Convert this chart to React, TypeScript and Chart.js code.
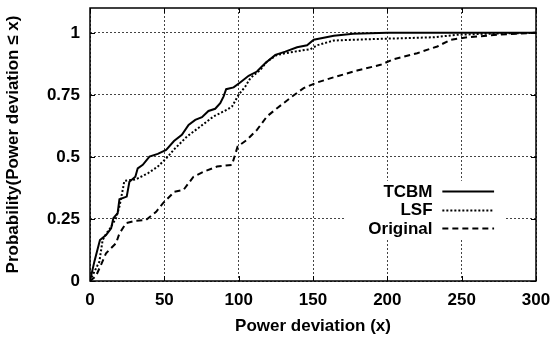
import React, { useEffect, useRef } from "react";
import { Chart, registerables } from "chart.js";

Chart.register(...registerables);

const xTicks = [0, 50, 100, 150, 200, 250, 300];
const yTicks = [0, 0.25, 0.5, 0.75, 1];

const tcbmX = [0, 3, 6.7, 10.8, 14.2, 15.7, 18.6, 19.8, 24.7, 26.5, 30.5, 32.1, 35.5, 40, 45.6, 51.2, 56.5, 61.8, 66.3, 70.8, 75.3, 79.7, 84.2, 87.6, 89.8, 91.6, 96.6, 101, 106.7, 112.3, 118, 124.7, 131.4, 139.3, 146, 150.5, 164, 177, 200, 300];
const tcbmY = [0, 0.08, 0.165, 0.185, 0.212, 0.253, 0.273, 0.329, 0.34, 0.4, 0.42, 0.454, 0.468, 0.501, 0.512, 0.528, 0.564, 0.589, 0.629, 0.649, 0.66, 0.685, 0.694, 0.716, 0.743, 0.773, 0.78, 0.8, 0.827, 0.844, 0.878, 0.911, 0.924, 0.942, 0.95, 0.972, 0.988, 0.996, 1, 1];

const lsfX = [0, 2.9, 6.3, 8.5, 10.8, 13.5, 17.5, 19.8, 22, 23.1, 31, 38.9, 45.6, 52.4, 56.5, 65.2, 74.1, 83.1, 92.1, 95.5, 99.9, 104.4, 107.8, 114.6, 119, 125.8, 133.6, 141.5, 148.2, 152.8, 164, 186, 209, 231, 247, 265, 300];
const lsfY = [0, 0.037, 0.078, 0.165, 0.19, 0.212, 0.253, 0.3, 0.367, 0.403, 0.41, 0.434, 0.461, 0.501, 0.53, 0.582, 0.622, 0.663, 0.69, 0.703, 0.75, 0.783, 0.817, 0.851, 0.884, 0.911, 0.92, 0.928, 0.934, 0.95, 0.969, 0.974, 0.978, 0.982, 0.992, 0.996, 1];

const origX = [0, 4, 7.4, 10.8, 17.5, 19.8, 24.3, 31, 37.7, 44.5, 49, 56.8, 62.9, 69.6, 76.4, 85.4, 95.5, 99.3, 105.6, 112.3, 119, 125.8, 135.9, 143.7, 152.8, 164, 179.7, 195.4, 204.4, 220.1, 233.6, 242.6, 253.8, 276, 300];
const origY = [0, 0.02, 0.065, 0.112, 0.152, 0.192, 0.233, 0.243, 0.246, 0.279, 0.313, 0.36, 0.367, 0.42, 0.44, 0.461, 0.468, 0.542, 0.569, 0.609, 0.663, 0.696, 0.743, 0.777, 0.8, 0.821, 0.848, 0.871, 0.894, 0.918, 0.945, 0.972, 0.982, 0.993, 1];

const seriesNames = ["TCBM", "LSF", "Original"];
const seriesDash = [[], [2, 2], [6, 4]];

const FONT = "'Liberation Sans', Arial, sans-serif";
const FS = 17;

const pts = (xs: number[], ys: number[]) => xs.map((x, i) => ({ x, y: ys[i] }));

const framePlugin = {
  id: "frame",
  beforeDatasetsDraw(chart: any) {
    const { ctx, chartArea: a } = chart;
    const w = a.right - a.left;
    const h = a.bottom - a.top;
    ctx.save();
    ctx.fillStyle = "#fff";
    ctx.fillRect(a.left + w * 0.571, a.top + h * 0.633, w * 0.36, h * 0.212);
    ctx.restore();
  },
  afterDatasetsDraw(chart: any) {
    const { ctx, chartArea: a, scales } = chart;
    const w = a.right - a.left;
    const h = a.bottom - a.top;
    ctx.save();
    ctx.strokeStyle = "#000";
    ctx.lineWidth = 1;
    const tl = 5;
    scales.x.ticks.forEach((t: any) => {
      const px = Math.round(scales.x.getPixelForValue(t.value)) + 0.5;
      ctx.beginPath();
      ctx.moveTo(px, a.bottom);
      ctx.lineTo(px, a.bottom - tl);
      ctx.moveTo(px, a.top);
      ctx.lineTo(px, a.top + tl);
      ctx.stroke();
    });
    scales.y.ticks.forEach((t: any) => {
      const py = Math.round(scales.y.getPixelForValue(t.value)) + 0.5;
      ctx.beginPath();
      ctx.moveTo(a.left, py);
      ctx.lineTo(a.left + tl, py);
      ctx.moveTo(a.right, py);
      ctx.lineTo(a.right - tl, py);
      ctx.stroke();
    });
    ctx.lineWidth = 1.5;
    ctx.strokeRect(a.left, a.top, w, h);
    const textRight = a.left + w * 0.768;
    const lineStart = a.left + w * 0.79;
    const lineEnd = a.left + w * 0.906;
    const row0 = a.top + h * 0.672;
    const rowH = h * 0.067;
    ctx.font = `bold ${FS}px ${FONT}`;
    ctx.textAlign = "right";
    ctx.textBaseline = "middle";
    ctx.fillStyle = "#000";
    chart.data.datasets.forEach((ds: any, i: number) => {
      const y = row0 + i * rowH;
      ctx.fillText(ds.label, textRight, y + 1);
      ctx.beginPath();
      ctx.setLineDash(ds.borderDash || []);
      ctx.lineWidth = 2;
      ctx.moveTo(lineStart, Math.round(y) + 0.5);
      ctx.lineTo(lineEnd, Math.round(y) + 0.5);
      ctx.stroke();
    });
    ctx.restore();
  },
};

export default function App() {
  const ref = useRef<HTMLCanvasElement>(null);
  useEffect(() => {
    document.body.style.margin = "0";
    const seriesData = [pts(tcbmX, tcbmY), pts(lsfX, lsfY), pts(origX, origY)];
    const chart = new Chart(ref.current!, {
      type: "scatter",
      data: {
        datasets: seriesData.map((d, i) => ({
          label: seriesNames[i],
          data: d,
          showLine: true,
          borderColor: "#000",
          backgroundColor: "#000",
          borderWidth: 2,
          borderDash: seriesDash[i],
          pointRadius: 0,
          tension: 0,
        })),
      },
      options: {
        animation: false,
        responsive: false,
        events: [],
        layout: { padding: { left: 0, right: 17, top: 8, bottom: 0 } },
        plugins: { legend: { display: false }, tooltip: { enabled: false } },
        scales: {
          x: {
            type: "linear",
            min: 0,
            max: 300,
            afterBuildTicks: (s: any) => {
              s.ticks = xTicks.map((v) => ({ value: v }));
            },
            afterFit: (s: any) => {
              s.height = 58;
              s.paddingLeft = 0;
              s.paddingRight = 0;
            },
            ticks: {
              color: "#000",
              padding: 9,
              font: { family: FONT, size: FS, weight: "bold" },
              callback: (v: any) => String(v),
            },
            grid: { color: "#444", lineWidth: 1, drawTicks: false },
            border: { display: false, dash: [2, 2] },
            title: {
              display: true,
              text: "Power deviation (x)",
              color: "#000",
              font: { family: FONT, size: FS, weight: "bold" },
              padding: { top: 0, bottom: 2 },
            },
          },
          y: {
            type: "linear",
            min: 0,
            max: 1.1,
            afterBuildTicks: (s: any) => {
              s.ticks = yTicks.map((v) => ({ value: v }));
            },
            afterFit: (s: any) => {
              s.width = 90;
              s.paddingTop = 0;
              s.paddingBottom = 0;
            },
            ticks: {
              color: "#000",
              padding: 10,
              font: { family: FONT, size: FS, weight: "bold" },
              callback: (v: any) => String(v),
            },
            grid: { color: "#444", lineWidth: 1, drawTicks: false },
            border: { display: false, dash: [2, 2] },
            title: {
              display: true,
              text: "Probability(Power deviation \u2264 x)",
              color: "#000",
              font: { family: FONT, size: FS, weight: "bold" },
              padding: { top: 3, bottom: 0 },
            },
          },
        },
      },
      plugins: [framePlugin],
    });
    return () => chart.destroy();
  }, []);
  return <canvas ref={ref} width={553} height={339} style={{ display: "block" }} />;
}
